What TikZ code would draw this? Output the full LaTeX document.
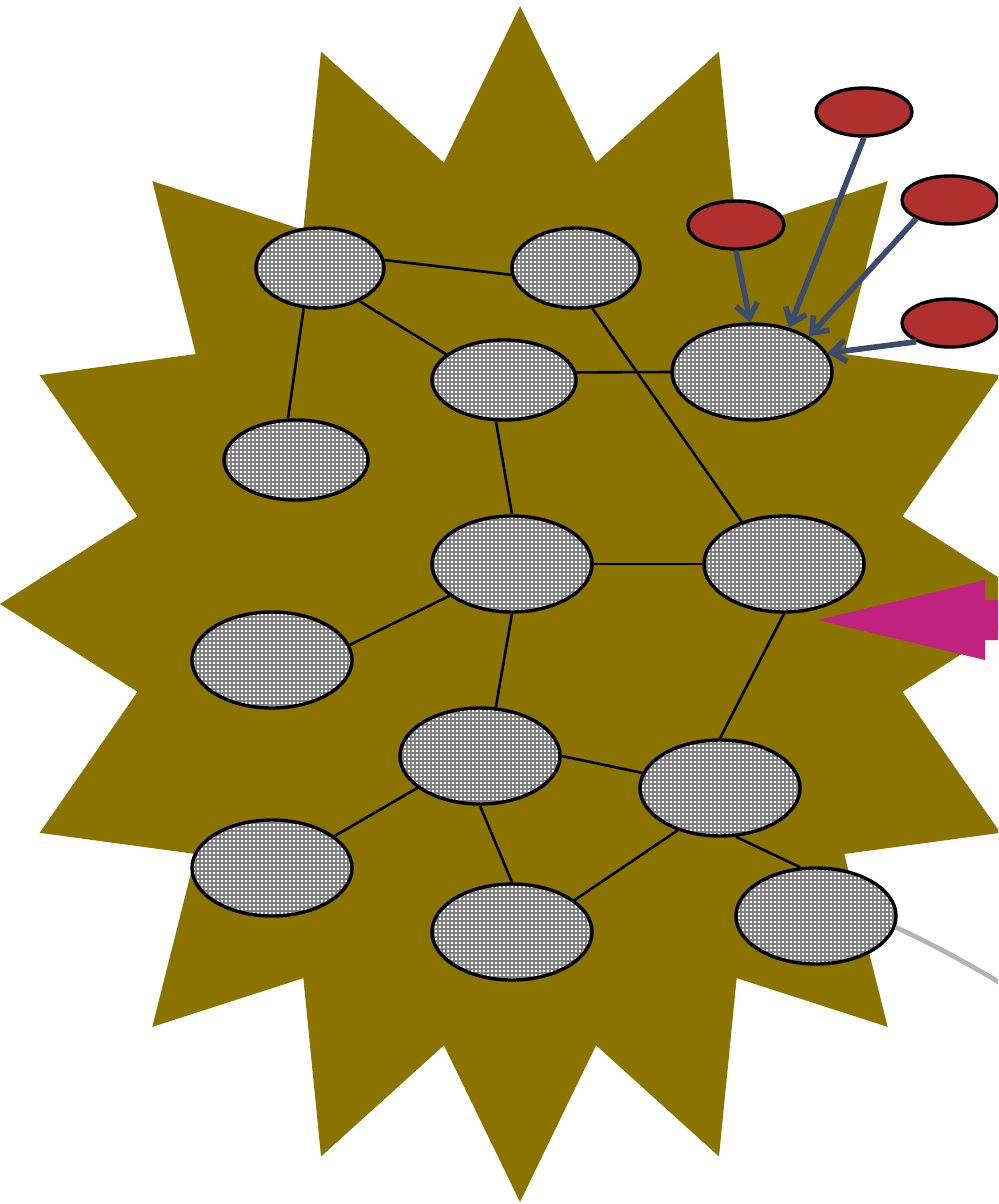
\documentclass[tikz,border=0pt]{standalone}
\usepackage{xcolor}
\usepackage{tikz}
\usetikzlibrary{shapes.geometric,patterns,arrows.meta}
\definecolor{starcol}{HTML}{8B7300}
\definecolor{srcred}{HTML}{B03030}
\definecolor{feedblue}{HTML}{3B4B6E}
\definecolor{pushcol}{HTML}{C2227F}
\definecolor{trailcol}{HTML}{B4B4B4}
\pgfdeclarepatternformonly{griddots}{\pgfpointorigin}{\pgfpoint{2.2pt}{2.2pt}}{\pgfpoint{2.2pt}{2.2pt}}
{\pgfpathrectangle{\pgfpointorigin}{\pgfpoint{1.1pt}{1.1pt}}\pgfusepath{fill}}
\begin{document}
\begin{tikzpicture}[x=0.5pt,y=-0.5pt,
	cell/.style={ellipse, draw, line width=1.7pt, inner sep=0pt, preaction={fill=gray}, pattern=griddots, pattern color=white, minimum width=80pt, minimum height=48pt},
	src/.style={ellipse, draw, line width=1.7pt, inner sep=0pt, fill=srcred, minimum width=48pt, minimum height=24pt},
	link/.style={line width=1.3pt},
	feed/.style={draw=feedblue, line width=2.8pt, -{Straight Barb[length=7pt,width=11pt]}}]
	\clip (0,0) rectangle (998,1204);
	\useasboundingbox (0,0) rectangle (998,1204);
	\fill[starcol] (520,6) \foreach \a in {0,22.5,...,337.5} { -- ({520+520*sin(\a)},{604-598*cos(\a)}) -- ({520+390*sin(\a+11.25)},{604-450*cos(\a+11.25)}) } -- cycle;
	\fill[pushcol] (818,620) -- (985,580) -- (985,600) -- (1000,600) -- (1000,640) -- (985,640) -- (985,660) -- cycle;

	\node[cell, minimum width=64pt, minimum height=40pt] (c1) at (320,268) {};
	\node[cell, minimum width=64pt, minimum height=40pt] (c2) at (576,268) {};
	\node[cell, minimum width=72pt, minimum height=40pt] (c3) at (504,380) {};
	\node[cell] (c4) at (752,372) {};
	\node[cell, minimum width=72pt, minimum height=40pt] (c5) at (296,460) {};
	\node[cell] (c6) at (512,564) {};
	\node[cell] (c7) at (784,564) {};
	\node[cell] (c8) at (272,660) {};
	\node[cell] (c9) at (480,756) {};
	\node[cell] (c10) at (720,788) {};
	\node[cell] (c11) at (272,868) {};
	\node[cell] (c12) at (512,932) {};
	\node[cell] (c13) at (816,916) {};

	\node[src] (s1) at (864,112) {};
	\node[src] (s2) at (736,225) {};
	\node[src] (s3) at (950,200) {};
	\node[src] (s4) at (950,323) {};

	\draw[link] (c1.7) -- (c2.186);
	\draw[link] (c1.-40) -- (c3.156);
	\draw[link] (c1.-112) -- (c5.101);
	\draw[link] (c2.-68) -- (c7.135);
	\draw[link] (c3.6) -- (c4.180);
	\draw[link] (c3.-101) -- (c6.90);
	\draw[link] (c6.0) -- (c7.180);
	\draw[link] (c6.207) -- (c8.11);
	\draw[link] (c6.-90) -- (c9.72);
	\draw[link] (c7.-90) -- (c10.90);
	\draw[link] (c9.0) -- (c10.169);
	\draw[link] (c9.207) -- (c11.27);
	\draw[link] (c9.-90) -- (c12.90);
	\draw[link] (c10.225) -- (c12.27);
	\draw[link] (c10.-72) -- (c13.108);

	\draw[feed] (s2.-90) -- (c4.92);
	\draw[feed] (s1.-90) -- (c4.50);
	\draw[feed] (s3.209) -- (c4.32);
	\draw[feed] (s4.209) -- (c4.14);

	\coordinate (off) at (1010,989);
	\draw[trailcol, line width=2.4pt] (c13.-8) .. controls (930,943) and (975,967) .. (off);
\end{tikzpicture}
\end{document}
